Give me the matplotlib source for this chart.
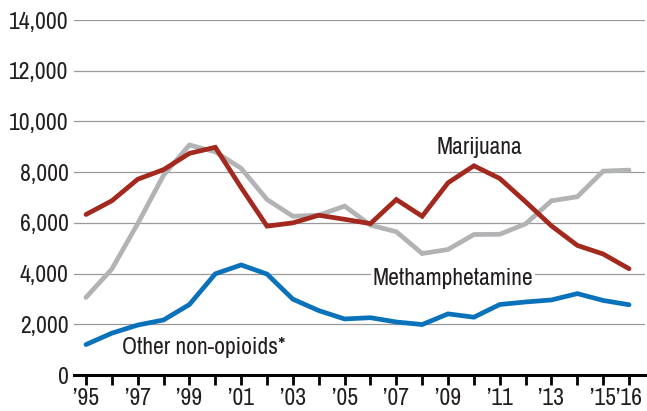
import matplotlib.pyplot as plt
from matplotlib import font_manager

# Values
years = list(range(1995, 2017))
marijuana = [6330, 6870, 7720, 8100, 8740, 8980, 7390, 5870, 6000, 6300,
             6140, 5970, 6920, 6260, 7580, 8250, 7750, 6830, 5880, 5110,
             4770, 4190]
meth = [3060, 4180, 5970, 7880, 9070, 8800, 8150, 6920, 6260, 6300,
        6660, 5910, 5650, 4790, 4950, 5540, 5550, 5960, 6870, 7030,
        8040, 8080]
other = [1200, 1650, 1970, 2170, 2780, 3990, 4340, 3980, 2990, 2540,
         2210, 2260, 2090, 1990, 2410, 2280, 2780, 2880, 2960, 3210,
         2940, 2770]
labeled_years = [1995, 1997, 1999, 2001, 2003, 2005, 2007, 2009, 2011, 2013, 2015, 2016]

# look for a narrow face, the original uses a condensed font
fonts = font_manager.fontManager.ttflist
narrow = [f for f in fonts if "Narrow" in f.name or "Condensed" in f.name]
cond = [f for f in fonts if f.stretch in ("condensed", "semi-condensed", "extra-condensed")]
if narrow:
    plt.rcParams["font.family"] = [narrow[0].name, "DejaVu Sans"]
    fs = 17
elif cond:
    plt.rcParams["font.family"] = [cond[0].name, "DejaVu Sans"]
    plt.rcParams["font.stretch"] = cond[0].stretch
    fs = 14.5
else:
    plt.rcParams["font.family"] = ["DejaVu Sans"]
    fs = 13

text_color = "#231f20"
red = "#a3281d"
gray = "#b2b3b5"
blue = "#0a72ba"

fig = plt.figure(figsize=(6.47, 4.11), dpi=100)
ax = fig.add_axes([74 / 647, 1 - 375 / 411, 571 / 647, 355 / 411])

ax.plot(years, meth, color=gray, lw=3.4, solid_capstyle="round", solid_joinstyle="miter", zorder=3)
ax.plot(years, marijuana, color=red, lw=3.4, solid_capstyle="round", solid_joinstyle="miter", zorder=4)
ax.plot(years, other, color=blue, lw=3.4, solid_capstyle="round", solid_joinstyle="miter", zorder=4)

ax.set_ylim(0, 14000)
ax.set_xlim(1995 - 12 / 25.86, 1995 + 559 / 25.86)
ax.set_yticks(range(0, 14001, 2000))
ax.set_yticklabels([f"{v:,}" for v in range(0, 14001, 2000)])
ax.set_xticks(years)
ax.set_xticklabels(["\u2019" + str(y)[2:] if y in labeled_years else "" for y in years])

ax.grid(axis="y", color="#9a9a9a", lw=0.9)
ax.set_axisbelow(True)
for side in ["left", "right", "top"]:
    ax.spines[side].set_visible(False)
ax.spines["bottom"].set_color("black")
ax.spines["bottom"].set_linewidth(2.2)
ax.spines["bottom"].set_zorder(5)

ax.tick_params(axis="y", length=0, pad=4, labelsize=fs, labelcolor=text_color)
ax.tick_params(axis="x", direction="out", length=7, width=2, color="black",
               pad=2, labelsize=fs, labelcolor=text_color)

ax.text(2010.2, 8720, "Marijuana", ha="center", va="baseline", fontsize=fs, color=text_color)
ax.text(2009.2, 3550, "Methamphetamine", ha="center", va="baseline", fontsize=fs, color=text_color,
        bbox=dict(facecolor="white", edgecolor="none", pad=1), zorder=2)
ax.text(1999.55, 830, "Other non-opioids*", ha="center", va="baseline", fontsize=fs, color=text_color)

plt.savefig("out.png", dpi=100)
